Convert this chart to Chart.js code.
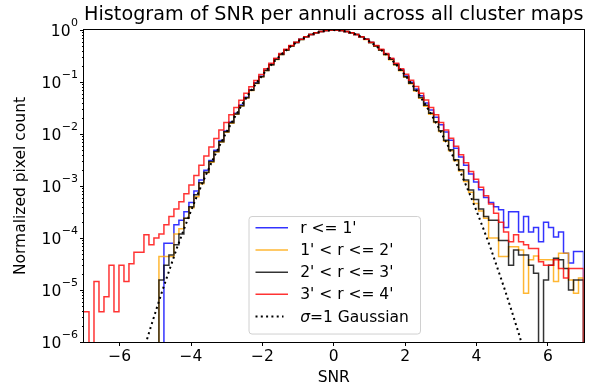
<!DOCTYPE html>
<html lang="en">
<head>
<meta charset="UTF-8">
<title>Histogram of SNR per annuli across all cluster maps</title>
<script src="https://cdn.jsdelivr.net/npm/chart.js"></script>
<style>
  html, body { margin: 0; padding: 0; background: #fff; }
  #wrap { width: 595px; height: 386px; }
</style>
</head>
<body>
<div id="wrap"><canvas id="snrChart" width="595" height="386"></canvas></div>
<script>
// histogram: 100 bins between -7 and 7
const binStart = -7;
const binWidth = 0.14;
const binEdges = Array.from({length: 101}, (_, i) => +(binStart + i * binWidth).toFixed(2));

const labels = ["r <= 1'", "1' < r <= 2'", "2' < r <= 3'", "3' < r <= 4'"];

// normalized pixel count per bin (0 = empty bin)
const countsR1 = [
  0, 0, 0, 0, 0, 0, 0, 0, 0, 0,
  0, 0, 0, 0, 0, 0, 7.9e-5, 7.9e-5, 1.8e-4, 2.2e-4,
  3.2e-4, 4.8e-4, 8.0e-4, 1.3e-3, 2.0e-3, 3.1e-3, 4.9e-3, 7.5e-3, 0.0114, 0.0170,
  0.0250, 0.0360, 0.0510, 0.0710, 0.0970, 0.129, 0.169, 0.218, 0.275, 0.341,
  0.414, 0.493, 0.577, 0.662, 0.744, 0.821, 0.887, 0.941, 0.978, 0.998,
  1.0, 0.979, 0.942, 0.888, 0.822, 0.745, 0.662, 0.578, 0.494, 0.415,
  0.342, 0.276, 0.219, 0.171, 0.131, 0.0988, 0.0736, 0.0542, 0.0394, 0.0289,
  0.0211, 0.0151, 0.0109, 7.6e-3, 5.3e-3, 3.6e-3, 2.5e-3, 1.7e-3, 1.2e-3, 8.5e-4,
  6.0e-4, 4.8e-4, 4.0e-4, 3.5e-4, 1.6e-4, 3.2e-4, 3.2e-4, 1.3e-4, 2.6e-4, 1.3e-4,
  1.6e-4, 8.5e-5, 2.0e-4, 1.6e-4, 1.05e-4, 1.3e-4, 5.1e-5, 3.3e-5, 5.5e-5, 5.5e-5
];
const countsR2 = [
  0, 0, 0, 0, 0, 0, 0, 0, 0, 0,
  0, 0, 0, 0, 0, 4.4e-5, 4.4e-5, 4.4e-5, 1.2e-4, 1.5e-4,
  2.4e-4, 3.8e-4, 6.2e-4, 1.1e-3, 1.8e-3, 2.85e-3, 4.5e-3, 7.0e-3, 0.0108, 0.0162,
  0.0240, 0.0347, 0.0493, 0.0690, 0.0940, 0.126, 0.166, 0.214, 0.271, 0.337,
  0.410, 0.490, 0.574, 0.659, 0.741, 0.819, 0.886, 0.940, 0.978, 0.998,
  1.0, 0.977, 0.939, 0.885, 0.818, 0.740, 0.657, 0.572, 0.488, 0.408,
  0.335, 0.269, 0.212, 0.164, 0.124, 0.0925, 0.0675, 0.0485, 0.0342, 0.0240,
  0.0166, 0.0112, 7.3e-3, 4.75e-3, 3.05e-3, 1.95e-3, 1.22e-3, 7.6e-4, 4.6e-4, 3.3e-4,
  2.4e-4, 1.0e-4, 1.0e-4, 4.4e-5, 4.4e-5, 6.8e-5, 6.8e-5, 5.9e-5, 8.7e-6, 3.8e-5,
  4.5e-5, 3.8e-5, 3.8e-5, 3.8e-5, 1.45e-5, 5.1e-5, 5.1e-5, 1.55e-5, 8.7e-6, 1.7e-5
];
const countsR3 = [
  0, 0, 0, 0, 0, 0, 0, 0, 0, 0,
  0, 0, 0, 0, 0, 1.55e-5, 3.0e-5, 4.7e-5, 7.4e-5, 1.2e-4,
  2.4e-4, 4.0e-4, 6.8e-4, 1.15e-3, 1.85e-3, 2.95e-3, 4.6e-3, 7.1e-3, 0.0110, 0.0165,
  0.0243, 0.0350, 0.0498, 0.0695, 0.0950, 0.127, 0.167, 0.216, 0.273, 0.339,
  0.413, 0.492, 0.576, 0.661, 0.743, 0.820, 0.887, 0.940, 0.978, 0.997,
  1.0, 0.978, 0.940, 0.887, 0.821, 0.744, 0.662, 0.577, 0.493, 0.414,
  0.340, 0.274, 0.217, 0.168, 0.127, 0.0950, 0.0696, 0.0502, 0.0356, 0.0252,
  0.0173, 0.0116, 7.6e-3, 5.0e-3, 3.2e-3, 2.05e-3, 1.3e-3, 8.4e-4, 5.5e-4, 3.6e-4,
  2.6e-4, 2.2e-4, 2.2e-4, 9.0e-5, 9.0e-5, 3.0e-5, 5.9e-5, 4.7e-5, 4.7e-5, 3.0e-5,
  2.1e-5, 0, 1.55e-5, 3.0e-5, 4.1e-5, 3.8e-5, 2.6e-5, 1.0e-5, 1.55e-5, 1.55e-5
];
const countsR4 = [
  3.8e-6, 0, 1.45e-5, 3.8e-6, 7.4e-6, 3.0e-5, 3.8e-6, 3.0e-5, 1.45e-5, 3.2e-5,
  5.3e-5, 5.3e-5, 1.15e-4, 7.4e-5, 1.0e-4, 1.2e-4, 1.8e-4, 2.6e-4, 3.6e-4, 5.0e-4,
  7.1e-4, 1.05e-3, 1.6e-3, 2.5e-3, 3.8e-3, 5.6e-3, 8.2e-3, 0.0119, 0.0167, 0.0236,
  0.0325, 0.0447, 0.0606, 0.0810, 0.107, 0.140, 0.181, 0.229, 0.287, 0.353,
  0.425, 0.502, 0.585, 0.668, 0.747, 0.822, 0.888, 0.941, 0.978, 0.998,
  1.0, 0.978, 0.941, 0.888, 0.822, 0.747, 0.668, 0.585, 0.502, 0.425,
  0.353, 0.287, 0.229, 0.181, 0.141, 0.108, 0.082, 0.061, 0.045, 0.0325,
  0.0235, 0.0166, 0.0120, 8.3e-3, 5.8e-3, 4.0e-3, 2.8e-3, 1.9e-3, 1.35e-3, 9.5e-4,
  6.5e-4, 4.5e-4, 3.0e-4, 2.0e-4, 1.3e-4, 8.5e-5, 1.15e-4, 8.5e-5, 7.4e-5, 6.3e-5,
  6.3e-5, 3.5e-5, 3.0e-5, 3.0e-5, 3.8e-5, 2.6e-5, 1.7e-5, 2.6e-5, 2.6e-5, 2.6e-5
];

// sigma = 1 reference curve
const gaussX = [
  -5.4, -5.2, -5.0, -4.8, -4.6, -4.4, -4.2, -4.0, -3.8, -3.6, -3.4, -3.2, -3.0, -2.8,
  -2.6, -2.4, -2.2, -2.0, -1.8, -1.6, -1.4, -1.2, -1.0, -0.8, -0.6, -0.4, -0.2, 0,
  0.2, 0.4, 0.6, 0.8, 1.0, 1.2, 1.4, 1.6, 1.8, 2.0, 2.2, 2.4, 2.6,
  2.8, 3.0, 3.2, 3.4, 3.6, 3.8, 4.0, 4.2, 4.4, 4.6, 4.8, 5.0, 5.2, 5.4
];
const gaussY = [
  4.6e-7, 1.35e-6, 3.7e-6, 9.9e-6, 2.5e-5, 6.3e-5, 1.47e-4, 3.35e-4, 7.3e-4, 1.54e-3, 3.09e-3, 5.98e-3, 0.0111, 0.0198,
  0.0340, 0.0561, 0.0889, 0.1353, 0.1979, 0.278, 0.3753, 0.4868, 0.6065, 0.7261, 0.8353, 0.9231, 0.9802, 1,
  0.9802, 0.9231, 0.8353, 0.7261, 0.6065, 0.4868, 0.3753, 0.278, 0.1979, 0.1353, 0.0889, 0.0561, 0.0340,
  0.0198, 0.0111, 5.98e-3, 3.09e-3, 1.54e-3, 7.3e-4, 3.35e-4, 1.47e-4, 6.3e-5, 2.5e-5, 9.9e-6, 3.7e-6, 1.35e-6, 4.6e-7
];

const xTicks = [-6, -4, -2, 0, 2, 4, 6];
const yTicks = [1e-6, 1e-5, 1e-4, 1e-3, 1e-2, 1e-1, 1];
const yTickExponents = ['\u22126', '\u22125', '\u22124', '\u22123', '\u22122', '\u22121', '0'];

const colors = ['rgba(0,0,255,0.8)', 'rgba(255,165,0,0.8)', 'rgba(0,0,0,0.8)', 'rgba(255,0,0,0.8)'];
const FONT = 'DejaVu Sans';
const EMPTY = 1e-9; // empty bins drop below the axis

function stepPoints(vals) {
  const pts = vals.map((v, i) => ({x: binEdges[i], y: v > 0 ? v : EMPTY}));
  pts.push({x: binEdges[binEdges.length - 1], y: EMPTY});
  return pts;
}

const histSets = [countsR1, countsR2, countsR3, countsR4].map((vals, i) => ({
  label: labels[i],
  data: stepPoints(vals),
  stepped: true,
  borderColor: colors[i],
  borderWidth: 1.5,
  pointRadius: 0,
  fill: false,
  order: 4 - i
}));

const gaussSet = {
  label: '\u03C3=1 Gaussian',
  data: gaussX.map((x, i) => ({x: x, y: gaussY[i]})),
  borderColor: '#000',
  borderWidth: 2,
  borderDash: [2, 3.3],
  pointRadius: 0,
  fill: false,
  order: 0
};

// frame, log tick labels with exponents, minor ticks and the legend box
const frameLegend = {
  id: 'frameLegend',
  afterDraw(chart) {
    const {ctx, chartArea: a, scales: {y}} = chart;
    ctx.save();
    ctx.strokeStyle = '#000';
    ctx.lineWidth = 1;
    for (let e = -6; e < 0; e++) {
      for (let m = 2; m <= 9; m++) {
        const py = Math.round(y.getPixelForValue(m * Math.pow(10, e))) + 0.5;
        ctx.beginPath();
        ctx.moveTo(a.left - 2, py);
        ctx.lineTo(a.left, py);
        ctx.stroke();
      }
    }
    ctx.strokeRect(Math.round(a.left) - 0.5, Math.round(a.top) - 0.5,
      Math.round(a.right - a.left) + 1, Math.round(a.bottom - a.top) + 1);

    // y tick labels as 10 with a raised exponent
    ctx.fillStyle = '#000';
    ctx.textAlign = 'right';
    ctx.textBaseline = 'middle';
    yTicks.forEach((v, i) => {
      const py = y.getPixelForValue(v);
      const rx = a.left - 6;
      ctx.font = '11px "' + FONT + '"';
      const ew = ctx.measureText(yTickExponents[i]).width;
      ctx.fillText(yTickExponents[i], rx, py - 6.5);
      ctx.font = '15.5px "' + FONT + '"';
      ctx.fillText('10', rx - ew - 0.5, py + 1.5);
    });

    // legend
    const bx = a.left + 164.5, by = a.top + 186, bw = 171.5, bh = 117.5;
    ctx.beginPath();
    ctx.roundRect(bx + 0.5, by + 0.5, bw, bh, 3);
    ctx.fillStyle = 'rgba(255,255,255,0.8)';
    ctx.fill();
    ctx.strokeStyle = '#d0d0d0';
    ctx.stroke();

    const sets = chart.data.datasets;
    ctx.textBaseline = 'middle';
    ctx.textAlign = 'left';
    sets.forEach((ds, i) => {
      const ry = by + 11.7 + i * 22.2;
      ctx.beginPath();
      ctx.strokeStyle = ds.borderColor;
      ctx.lineWidth = ds.borderWidth;
      ctx.setLineDash(ds.borderDash || []);
      ctx.moveTo(bx + 7, ry);
      ctx.lineTo(bx + (ds.borderDash ? 35 : 39.5), ry);
      ctx.stroke();
      ctx.setLineDash([]);
      ctx.fillStyle = '#000';
      let tx = bx + 51.7;
      let text = ds.label;
      if (text.charAt(0) === '\u03C3') {
        ctx.font = 'italic 15.5px "' + FONT + '"';
        ctx.fillText('\u03C3', tx, ry + 1);
        tx += ctx.measureText('\u03C3').width;
        text = text.slice(1);
      }
      ctx.font = '15.5px "' + FONT + '"';
      ctx.fillText(text, tx, ry + 1);
    });
    ctx.restore();
  }
};

Chart.defaults.font.family = FONT;
Chart.defaults.color = '#000';

new Chart(document.getElementById('snrChart'), {
  type: 'line',
  data: { datasets: histSets.concat([gaussSet]) },
  options: {
    responsive: false,
    animation: false,
    devicePixelRatio: 1,
    layout: { padding: { left: 0, right: 11.5, top: 0, bottom: 0 } },
    plugins: {
      legend: { display: false },
      tooltip: { enabled: false },
      title: {
        display: true,
        fullSize: false,
        text: 'Histogram of SNR per annuli across all cluster maps',
        color: '#000',
        font: { size: 19.2, weight: 'normal', lineHeight: 1.2 },
        padding: { top: 3.5, bottom: 3.5 }
      }
    },
    scales: {
      x: {
        type: 'linear',
        min: -7,
        max: 7,
        afterBuildTicks: s => { s.ticks = xTicks.map(v => ({value: v})); },
        afterFit: s => { s.height = 44; },
        grid: { display: true, drawOnChartArea: false, drawTicks: true, tickLength: 4, color: '#000', tickWidth: 1 },
        border: { display: false },
        ticks: {
          color: '#000',
          font: { size: 15.5 },
          padding: 2,
          maxRotation: 0,
          autoSkip: false,
          callback: v => String(v).replace('-', '\u2212')
        },
        title: { display: true, text: 'SNR', color: '#000', font: { size: 15.5, lineHeight: 1 }, padding: { top: 0, bottom: 0 } }
      },
      y: {
        type: 'logarithmic',
        min: 1e-6,
        max: 1,
        afterBuildTicks: s => { s.ticks = yTicks.map(v => ({value: v})); },
        afterFit: s => { s.width = 84; },
        grid: { display: true, drawOnChartArea: false, drawTicks: true, tickLength: 4, color: '#000', tickWidth: 1 },
        border: { display: false },
        ticks: { display: false },
        title: { display: true, text: 'Normalized pixel count', color: '#000', font: { size: 15.5, lineHeight: 1.2 }, padding: { top: 11.5, bottom: 0 } }
      }
    }
  },
  plugins: [frameLegend]
});
</script>
</body>
</html>
